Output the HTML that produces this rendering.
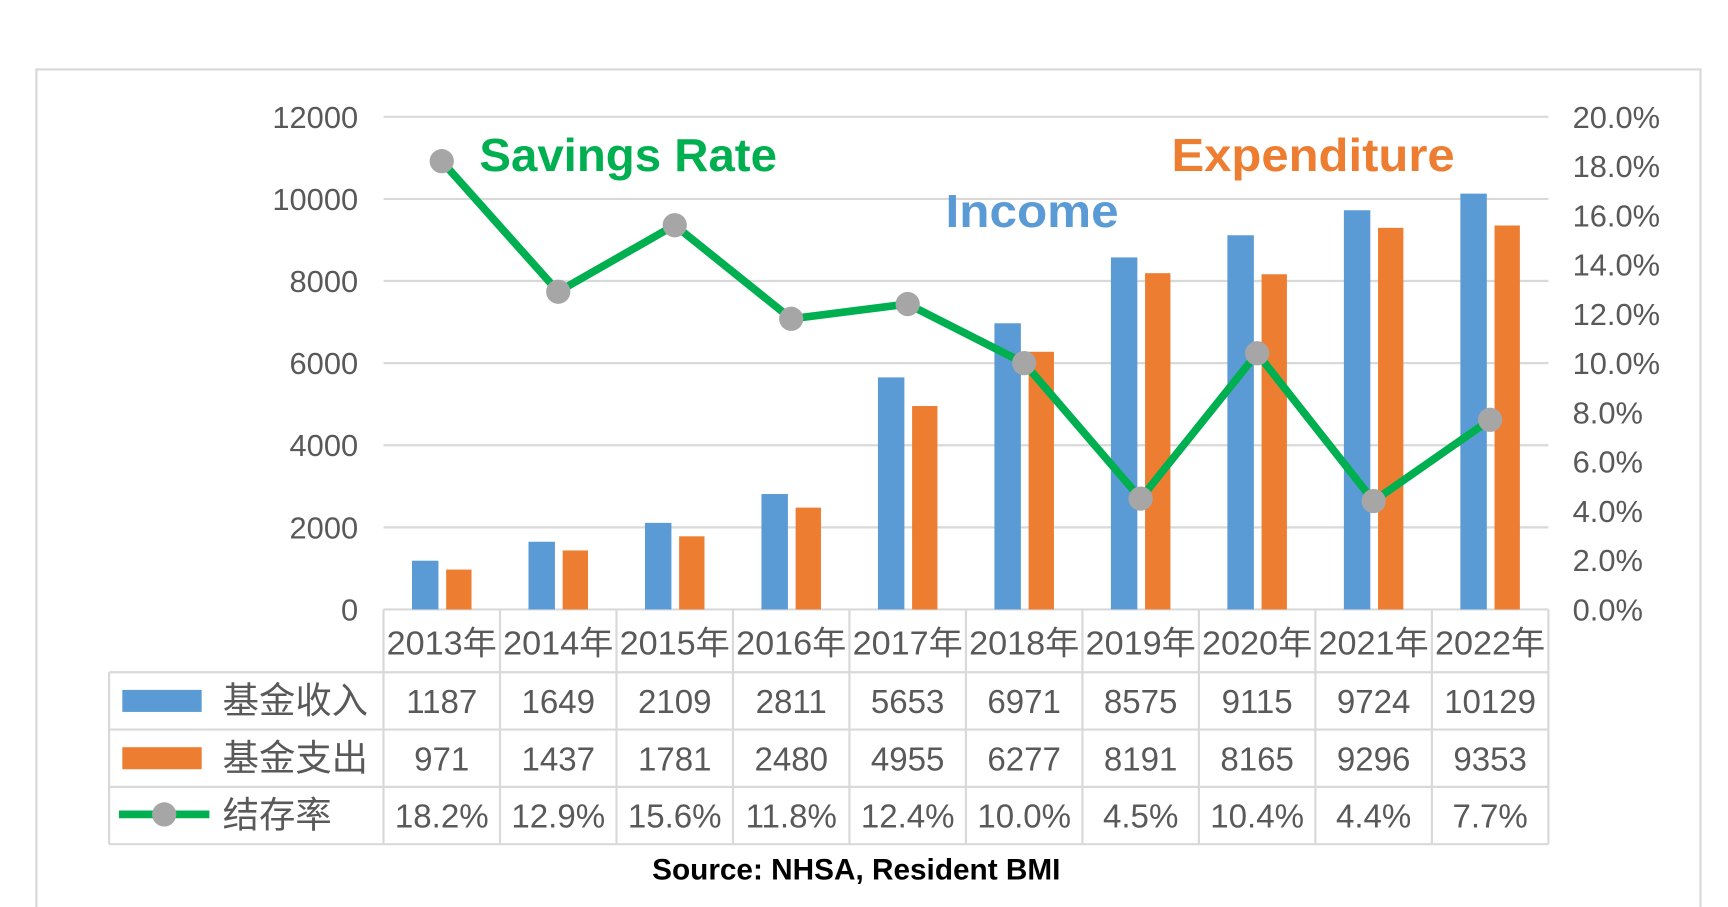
<!DOCTYPE html>
<html><head><meta charset="utf-8">
<style>
html,body{margin:0;padding:0;background:#fff;}
svg{display:block;}
text{font-family:"Liberation Sans","Noto Sans CJK SC",sans-serif;}
</style></head>
<body>
<svg id="chart" width="1728" height="907" viewBox="0 0 1568 823" xmlns="http://www.w3.org/2000/svg">
<rect x="33" y="63" width="1510" height="800" fill="#fff" stroke="#d9d9d9" stroke-width="2"/>
<g id="grid"></g>
<g id="bars"></g>
<g id="table"></g>
<g id="line"></g>
<text x="435" y="155" font-size="42" font-weight="bold" fill="#00b050" textLength="270" lengthAdjust="spacingAndGlyphs">Savings Rate</text>
<text x="858" y="206" font-size="42" font-weight="bold" fill="#5b9bd5" textLength="157" lengthAdjust="spacingAndGlyphs">Income</text>
<text x="1063" y="155" font-size="42" font-weight="bold" fill="#ed7d31" textLength="257" lengthAdjust="spacingAndGlyphs">Expenditure</text>
<text x="777" y="798" font-size="27" font-weight="bold" fill="#000" text-anchor="middle">Source: NHSA, Resident BMI</text>
</svg>
<script>
const categories = ["2013年","2014年","2015年","2016年","2017年","2018年","2019年","2020年","2021年","2022年"];
const income = [1187,1649,2109,2811,5653,6971,8575,9115,9724,10129];
const expenditure = [971,1437,1781,2480,4955,6277,8191,8165,9296,9353];
const savingsRate = [18.2,12.9,15.6,11.8,12.4,10.0,4.5,10.4,4.4,7.7];
const leftTicks = [0,2000,4000,6000,8000,10000,12000];
const rightTicks = [0,2,4,6,8,10,12,14,16,18,20];

const NS="http://www.w3.org/2000/svg";
const X0=348, X1=1405, Y0=553, Y1=106;
const colW=(X1-X0)/categories.length;
const cx=i=>X0+colW*(i+0.5);
const yL=v=>Y0-(v/12000)*(Y0-Y1);
const yR=v=>Y0-(v/20)*(Y0-Y1);
function mk(tag,attrs,parent,txt){const e=document.createElementNS(NS,tag);for(const k in attrs)e.setAttribute(k,attrs[k]);if(txt!==undefined)e.textContent=txt;document.getElementById(parent).appendChild(e);return e;}

leftTicks.forEach(t=>{
  const g=mk('line',{x1:X0,x2:X1,y1:yL(t),y2:yL(t),stroke:'#d9d9d9','stroke-width':2},'grid');
  
  
  const l=mk('text',{x:325,y:yL(t)+10,'font-size':28,fill:'#595959','text-anchor':'end'},'grid',String(t));
  
  
});
rightTicks.forEach(t=>{
  const l=mk('text',{x:1427,y:yR(t)+10,'font-size':28,fill:'#595959'},'grid',t.toFixed(1)+'%');
  
  
});
categories.forEach((c,i)=>{
  const b=mk('rect',{x:cx(i)-27,y:yL(income[i]),width:24,height:Y0-yL(income[i]),fill:'#5b9bd5'},'bars');
  
  
  const o=mk('rect',{x:cx(i)+4,y:yL(expenditure[i]),width:23,height:Y0-yL(expenditure[i]),fill:'#ed7d31'},'bars');
  
  
});
const tb='#d9d9d9';
mk('line',{x1:X0,x2:X0,y1:553,y2:766,stroke:tb,'stroke-width':2},'table');
for(let i=1;i<=categories.length;i++) mk('line',{x1:X0+colW*i,x2:X0+colW*i,y1:553,y2:766,stroke:tb,'stroke-width':2},'table');
mk('line',{x1:99,x2:99,y1:610,y2:766,stroke:tb,'stroke-width':2},'table');
[610,662,714,766].forEach(y=>mk('line',{x1:99,x2:X1,y1:y,y2:y,stroke:tb,'stroke-width':2},'table'));
categories.forEach((c,i)=>{
  const t=mk('text',{x:cx(i),y:594,'font-size':30,fill:'#595959','text-anchor':'middle',textLength:100,lengthAdjust:'spacingAndGlyphs'},'table',c);
  
  
  const a=mk('text',{x:cx(i),y:647,'font-size':30,fill:'#595959','text-anchor':'middle'},'table',String(income[i]));
  
  
  const b=mk('text',{x:cx(i),y:699,'font-size':30,fill:'#595959','text-anchor':'middle'},'table',String(expenditure[i]));
  
  
  const r=mk('text',{x:cx(i),y:751,'font-size':30,fill:'#595959','text-anchor':'middle'},'table',savingsRate[i].toFixed(1)+'%');
  
  
});
let k=mk('rect',{x:111,y:626,width:72,height:20,fill:'#5b9bd5'},'table');

k=mk('rect',{x:111,y:678,width:72,height:20,fill:'#ed7d31'},'table');

k=mk('line',{x1:108,x2:190,y1:739,y2:739,stroke:'#00b050','stroke-width':7},'table');

mk('circle',{cx:149,cy:739,r:11,fill:'#a6a6a6'},'table');
[['基金收入',647,'legend-income-label'],['基金支出',699,'legend-expenditure-label'],['结存率',751,'legend-rate-label']].forEach(([s,y,n])=>{
  const t=mk('text',{x:202,y:y,'font-size':33,fill:'#595959'},'table',s);
  
  
});
const pts=savingsRate.map((v,i)=>cx(i)+','+yR(v)).join(' ');
const pl=mk('polyline',{points:pts,fill:'none',stroke:'#00b050','stroke-width':7,'stroke-linejoin':'round'},'line');


savingsRate.forEach((v,i)=>{
  const c=mk('circle',{cx:cx(i),cy:yR(v),r:11,fill:'#a6a6a6'},'line');
  
  
});
</script>
</body></html>
